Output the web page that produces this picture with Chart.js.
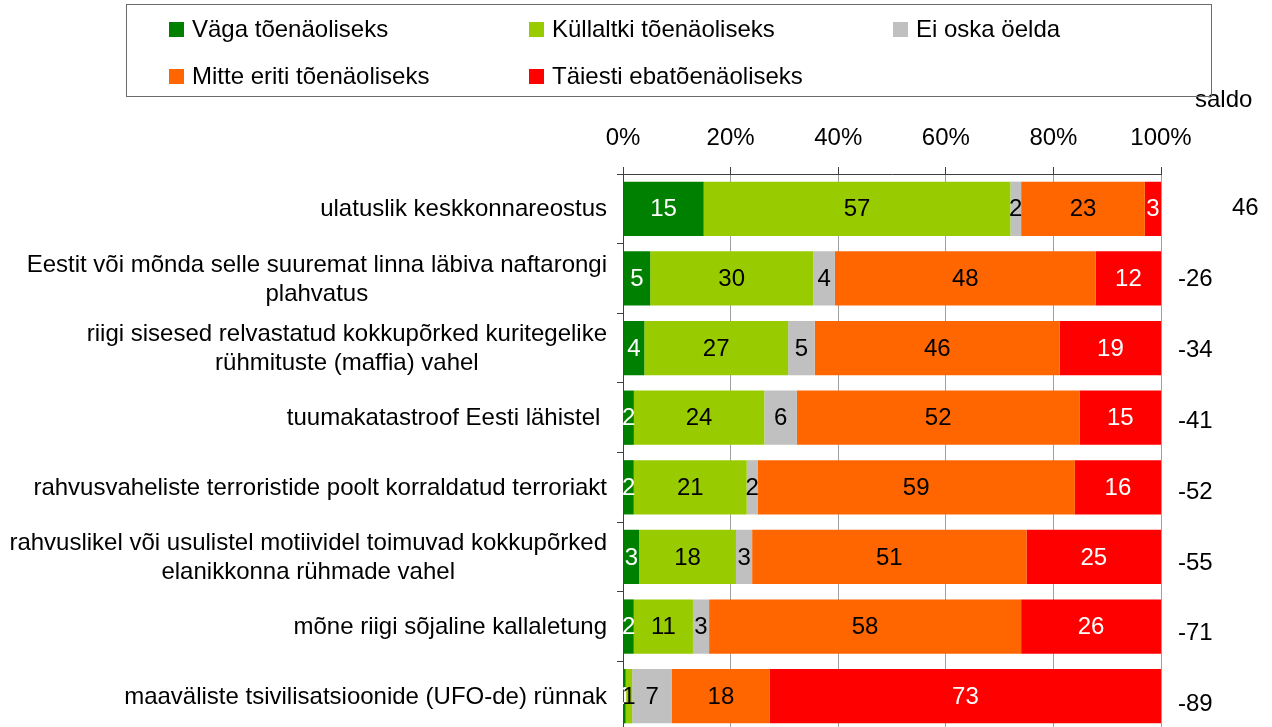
<!DOCTYPE html>
<html>
<head>
<meta charset="utf-8">
<script src="https://cdn.jsdelivr.net/npm/chart.js@4/dist/chart.umd.min.js"></script>
<style>
  body { margin: 0; overflow: hidden; background: #fff; font-family: "Liberation Sans", Arial, sans-serif; }
  #wrap { position: relative; width: 1272px; height: 727px; overflow: hidden; }
  #chart { position: absolute; left: 0; top: 0; }
  #legend { position: absolute; left: 126px; top: 4px; width: 1086px; height: 93px; border: 1px solid #6b6b6b; box-sizing: border-box; }
  .item { position: absolute; display: flex; align-items: center; height: 24px; font-size: 24px; white-space: nowrap; color: #000; }
  .item i { display: inline-block; width: 15px; height: 15px; margin-right: 8px; }
</style>
</head>
<body>
<div id="wrap">
  <canvas id="chart" width="1272" height="740"></canvas>
  <div id="legend"></div>
</div>
<script>
var categories = [
  "ulatuslik keskkonnareostus",
  ["Eestit või mõnda selle suuremat linna läbiva naftarongi", "plahvatus"],
  ["riigi sisesed relvastatud kokkupõrked kuritegelike", "rühmituste (maffia) vahel"],
  "tuumakatastroof Eesti lähistel ",
  "rahvusvaheliste terroristide poolt korraldatud terroriakt",
  ["rahvuslikel või usulistel motiividel toimuvad kokkupõrked", "elanikkonna rühmade vahel"],
  "mõne riigi sõjaline kallaletung",
  "maaväliste tsivilisatsioonide (UFO-de) rünnak"
];

var seriesNames = ["Väga tõenäoliseks", "Küllaltki tõenäoliseks", "Ei oska öelda", "Mitte eriti tõenäoliseks", "Täiesti ebatõenäoliseks"];
var seriesColors = ["#008000", "#99cc00", "#c0c0c0", "#ff6600", "#ff0000"];
var valueColors = ["#ffffff", "#000000", "#000000", "#000000", "#ffffff"];

var vagaToenaoliseks       = [15,  5,  4,  2,  2,  3,  2, 0.5];
var kullaltkiToenaoliseks  = [57, 30, 27, 24, 21, 18, 11, 1.2];
var eiOskaOelda            = [ 2,  4,  5,  6,  2,  3,  3, 7.4];
var mitteEritiToenaoliseks = [23, 48, 46, 52, 59, 51, 58, 18.2];
var taiestiEbatoenaoliseks = [ 3, 12, 19, 15, 16, 25, 26, 72.7];
var saldo = [46, -26, -34, -41, -52, -55, -71, -89];

var tickLabels = ["0%", "20%", "40%", "60%", "80%", "100%"];

var series = [vagaToenaoliseks, kullaltkiToenaoliseks, eiOskaOelda, mitteEritiToenaoliseks, taiestiEbatoenaoliseks];

// legend (html, 3 columns like the original)
var legendSpots = [[42, 12], [402, 12], [766, 12], [42, 59], [402, 59]];
var legendBox = document.getElementById("legend");
seriesNames.forEach(function (name, k) {
  var div = document.createElement("div");
  div.className = "item";
  div.style.left = legendSpots[k][0] + "px";
  div.style.top = legendSpots[k][1] + "px";
  div.innerHTML = '<i style="background:' + seriesColors[k] + '"></i>' + name;
  legendBox.appendChild(div);
});

// 100% stacked: every row scaled to its own total
var rowTotals = categories.map(function (c, i) {
  return series.reduce(function (s, arr) { return s + arr[i]; }, 0);
});

var datasets = series.map(function (arr, k) {
  return {
    label: seriesNames[k],
    data: arr.map(function (v, i) { return v / rowTotals[i] * 100; }),
    backgroundColor: seriesColors[k],
    barPercentage: 0.78,
    categoryPercentage: 1
  };
});

var FONT = "'Liberation Sans', Arial, sans-serif";

var barLabels = {
  id: "barLabels",
  afterDatasetsDraw: function (chart) {
    var ctx = chart.ctx;
    ctx.save();
    ctx.font = "24px " + FONT;
    ctx.textAlign = "center";
    ctx.textBaseline = "middle";
    chart.data.datasets.forEach(function (ds, k) {
      chart.getDatasetMeta(k).data.forEach(function (bar, i) {
        ctx.fillStyle = valueColors[k];
        ctx.fillText(String(Math.round(series[k][i])), (bar.x + bar.base) / 2, bar.y + 1);
      });
    });
    ctx.restore();
  }
};

// category labels, right aligned block with centred lines
var catLabels = {
  id: "catLabels",
  afterDraw: function (chart) {
    var ctx = chart.ctx;
    var yScale = chart.scales.y;
    var right = chart.chartArea.left - 16;
    ctx.save();
    ctx.font = "24px " + FONT;
    ctx.fillStyle = "#000";
    ctx.textAlign = "center";
    ctx.textBaseline = "middle";
    categories.forEach(function (c, i) {
      var lines = Array.isArray(c) ? c : [c];
      var w = Math.max.apply(null, lines.map(function (l) { return ctx.measureText(l).width; }));
      var y = yScale.getPixelForValue(i);
      lines.forEach(function (l, j) {
        ctx.fillText(l, right - w / 2, y + 1 + (j - (lines.length - 1) / 2) * 29);
      });
    });

    // saldo column
    var xr = chart.chartArea.right;
    ctx.textAlign = "left";
    ctx.fillText("saldo", xr + 34, 100);
    saldo.forEach(function (v, i) {
      var y = yScale.getPixelForValue(i) + i * 1.2;
      ctx.fillText(String(v), xr + (v >= 0 ? 71 : 17), y);
    });
    ctx.restore();
  }
};

Chart.defaults.font.family = FONT;
Chart.defaults.font.size = 24;
Chart.defaults.color = "#000";

new Chart(document.getElementById("chart"), {
  type: "bar",
  data: { labels: categories, datasets: datasets },
  options: {
    indexAxis: "y",
    responsive: false,
    animation: false,
    layout: { padding: { left: 0, right: 111, top: 0, bottom: 9 } },
    plugins: { legend: { display: false }, tooltip: { enabled: false } },
    scales: {
      x: {
        position: "top",
        stacked: true,
        min: 0,
        max: 100,
        ticks: {
          stepSize: 20,
          padding: 14,
          callback: function (v, idx) { return tickLabels[idx]; }
        },
        grid: { color: "#a0a0a0", tickColor: "#404040", tickLength: 7 },
        border: { color: "#404040" },
        afterFit: function (s) { s.height = 174; }
      },
      y: {
        stacked: true,
        offset: true,
        ticks: { display: false },
        grid: { offset: true, drawOnChartArea: false, tickLength: 6, tickColor: "#404040" },
        border: { color: "#404040" },
        afterFit: function (s) { s.width = 623; }
      }
    }
  },
  plugins: [barLabels, catLabels]
});
</script>
</body>
</html>
